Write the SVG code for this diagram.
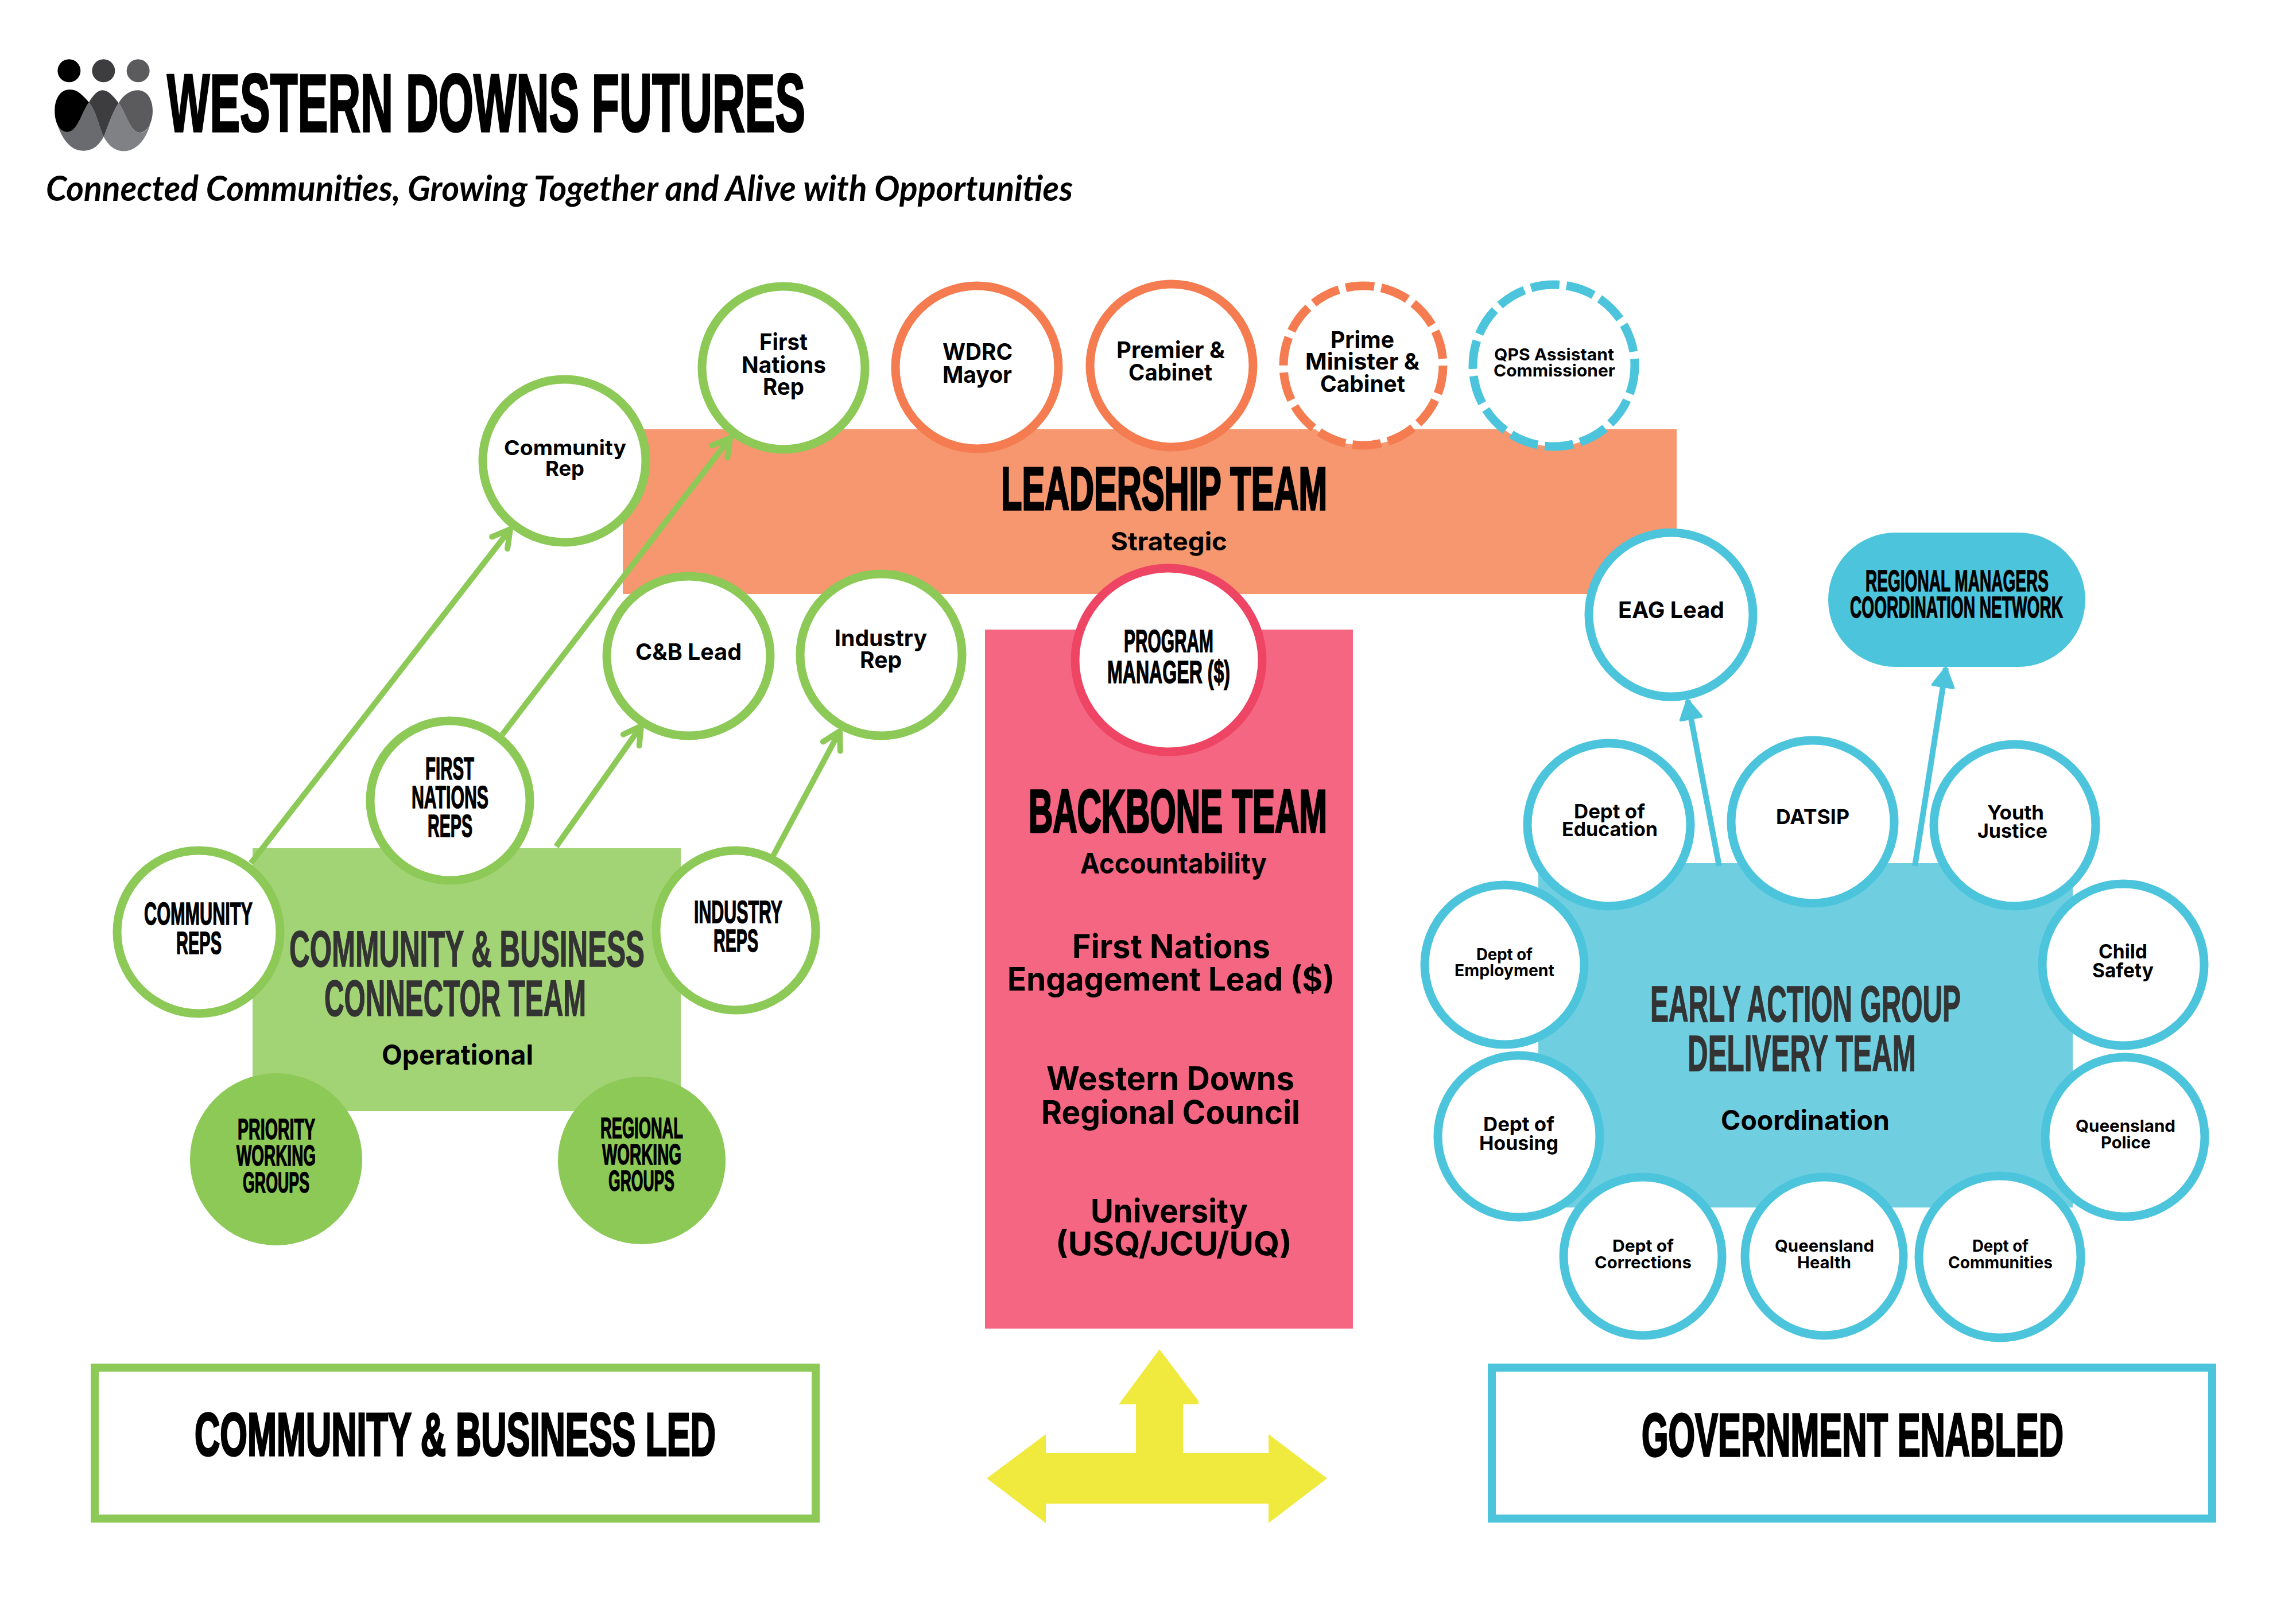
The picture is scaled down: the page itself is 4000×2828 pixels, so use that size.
<svg xmlns="http://www.w3.org/2000/svg" width="4000" height="2828" viewBox="0 0 4000 2828">
<style>
text{font-family:"Liberation Sans",Arial,sans-serif;fill:#000}
.b{font-weight:700;stroke:#000;stroke-width:1.5}
.t{font-weight:700;stroke:#000;stroke-width:3.5}
.d{fill:#333;font-weight:700;stroke:#333;stroke-width:1.5}
.w{font-family:Inter,"Liberation Sans",sans-serif;font-weight:700}
.n{fill:#fff;stroke-width:15}
.g{stroke:#8cc956}.o{stroke:#f47c50}.c{stroke:#4cc5dc}.p{stroke:#ef4565}
.dash{stroke-dasharray:50 12.4}
.fg{fill:#8cc956}
.box{fill:#fff;stroke-width:14}
.cg{fill:none;stroke:#8cc956;stroke-width:10}
.cb{fill:none;stroke:#4cc5dc;stroke-width:10}
</style>
<defs>
<marker id="ag" markerUnits="userSpaceOnUse" viewBox="-45 -30 55 60" markerWidth="55" markerHeight="60" refX="0" refY="0" orient="auto"><path d="M-30,-17 L0,0 L-30,17" fill="none" stroke="#8cc956" stroke-width="10" stroke-linecap="round" stroke-linejoin="round"/></marker>
<marker id="ab" markerUnits="userSpaceOnUse" viewBox="-45 -30 55 60" markerWidth="55" markerHeight="60" refX="0" refY="0" orient="auto"><path d="M-32,-18 L0,0 L-32,18 Z" fill="#4cc5dc" stroke="#4cc5dc" stroke-width="5" stroke-linejoin="round"/></marker>
</defs>
<rect width="4000" height="2828" fill="#fff"/>

<g id="logo" transform="translate(60 80) scale(.3333)">
<circle cx="181" cy="130" r="60" fill="#000"/><circle cx="361" cy="130" r="60" fill="#3d3d3f"/><circle cx="542" cy="130" r="60" fill="#5b5b5d"/>
<path d="M285,295 C245,350 225,450 172,450 C150,450 130,435 118,405 C145,490 190,548 255,548 C310,548 340,515 362,475 C335,420 325,345 285,295Z" fill="#6a6b6e"/>
<path d="M440,298 C405,350 385,420 362,475 C385,520 420,550 468,550 C530,550 585,490 606,405 C590,440 575,453 550,453 C500,453 480,350 440,298Z" fill="#808184"/>
<path d="M285,295 C250,255 225,228 185,228 C135,228 106,275 106,340 C106,400 130,450 172,450 C225,450 245,350 285,295Z" fill="#000"/>
<path d="M285,295 C315,245 335,232 358,232 C385,232 410,260 440,298 C405,350 385,420 362,475 C335,420 325,345 285,295Z" fill="#3d3d3f"/>
<path d="M440,298 C470,250 505,232 540,232 C590,232 618,280 618,340 C618,400 590,453 550,453 C500,453 480,350 440,298Z" fill="#5b5b5d"/>
</g>
<g id="title">
<text class="t" x="291" y="229" font-size="142" textLength="1112" lengthAdjust="spacingAndGlyphs">WESTERN DOWNS FUTURES</text>
<text x="80" y="350" font-size="62" font-style="italic" font-weight="700" textLength="1789" lengthAdjust="spacingAndGlyphs" style="font-family:Lato,'Liberation Sans',sans-serif">Connected Communities, Growing Together and Alive with Opportunities</text>
</g>

<g id="leadership-team">
<rect x="1085" y="748" width="1836" height="287" fill="#f6976f"/>
<text class="t" x="1744" y="888" font-size="105" textLength="568" lengthAdjust="spacingAndGlyphs">LEADERSHIP TEAM</text>
<text class="w" x="1935" y="959" font-size="44" textLength="203" lengthAdjust="spacingAndGlyphs">Strategic</text>
</g>
<g id="backbone-team">
<rect x="1716" y="1097" width="641" height="1218" fill="#f46682"/>
<text class="t" x="1792" y="1450" font-size="105" textLength="520" lengthAdjust="spacingAndGlyphs">BACKBONE TEAM</text>
<text class="w" x="1882" y="1522" font-size="50" textLength="325" lengthAdjust="spacingAndGlyphs">Accountability</text>
<text class="w" x="1868" y="1669" font-size="56" textLength="345" lengthAdjust="spacingAndGlyphs">First Nations</text>
<text class="w" x="1755" y="1726" font-size="56" textLength="570" lengthAdjust="spacingAndGlyphs">Engagement Lead ($)</text>
<text class="w" x="1823" y="1899" font-size="56" textLength="432" lengthAdjust="spacingAndGlyphs">Western Downs</text>
<text class="w" x="1814" y="1958" font-size="56" textLength="451" lengthAdjust="spacingAndGlyphs">Regional Council</text>
<text class="w" x="1900" y="2130" font-size="56" textLength="274" lengthAdjust="spacingAndGlyphs">University</text>
<text class="w" x="1839" y="2187" font-size="56" textLength="412" lengthAdjust="spacingAndGlyphs">(USQ/JCU/UQ)</text>
</g>
<g id="connector-team">
<rect x="440" y="1478" width="746" height="458" fill="#a2d476"/>
<text class="d" x="504" y="1684" font-size="89" textLength="619" lengthAdjust="spacingAndGlyphs">COMMUNITY &amp; BUSINESS</text>
<text class="d" x="565" y="1770" font-size="89" textLength="456" lengthAdjust="spacingAndGlyphs">CONNECTOR TEAM</text>
<text class="w" x="665" y="1855" font-size="48" textLength="264" lengthAdjust="spacingAndGlyphs">Operational</text>
</g>
<g id="eag-team">
<rect x="2680" y="1504" width="931" height="600" fill="#6fcfe1"/>
<text class="d" x="2875" y="1780" font-size="89" textLength="541" lengthAdjust="spacingAndGlyphs">EARLY ACTION GROUP</text>
<text class="d" x="2940" y="1866" font-size="89" textLength="398" lengthAdjust="spacingAndGlyphs">DELIVERY TEAM</text>
<text class="w" x="2998" y="1969" font-size="48" textLength="294" lengthAdjust="spacingAndGlyphs">Coordination</text>
</g>

<g id="connectors">
<line class="cg" x1="437" y1="1504" x2="889" y2="922" marker-end="url(#ag)"/>
<line class="cg" x1="875" y1="1280" x2="1272" y2="763" marker-end="url(#ag)"/>
<line class="cg" x1="969" y1="1475" x2="1117" y2="1265" marker-end="url(#ag)"/>
<line class="cg" x1="1347" y1="1491" x2="1463" y2="1274" marker-end="url(#ag)"/>
<line class="cb" x1="2995" y1="1509" x2="2940" y2="1220" marker-end="url(#ab)"/>
<line class="cb" x1="3336" y1="1509" x2="3390" y2="1164" marker-end="url(#ab)"/>
</g>

<g id="community-rep"><circle class="n g" cx="983" cy="803" r="142"/>
<text class="w" x="878" y="793" font-size="36" textLength="213" lengthAdjust="spacingAndGlyphs">Community</text>
<text class="w" x="950" y="829" font-size="36" textLength="68" lengthAdjust="spacingAndGlyphs">Rep</text></g>
<g id="first-nations-rep"><circle class="n g" cx="1365" cy="641" r="142"/>
<text class="w" x="1323" y="610" font-size="40" textLength="84" lengthAdjust="spacingAndGlyphs">First</text>
<text class="w" x="1292" y="650" font-size="40" textLength="147" lengthAdjust="spacingAndGlyphs">Nations</text>
<text class="w" x="1329" y="688" font-size="40" textLength="72" lengthAdjust="spacingAndGlyphs">Rep</text></g>
<g id="wdrc-mayor"><circle class="n o" cx="1702" cy="640" r="142"/>
<text class="w" x="1642" y="627" font-size="40" textLength="122" lengthAdjust="spacingAndGlyphs">WDRC</text>
<text class="w" x="1642" y="667" font-size="40" textLength="121" lengthAdjust="spacingAndGlyphs">Mayor</text></g>
<g id="premier-cabinet"><circle class="n o" cx="2041" cy="637" r="142"/>
<text class="w" x="1945" y="624" font-size="40" textLength="189" lengthAdjust="spacingAndGlyphs">Premier &amp;</text>
<text class="w" x="1966" y="663" font-size="40" textLength="146" lengthAdjust="spacingAndGlyphs">Cabinet</text></g>
<g id="prime-minister-cabinet"><circle class="n o dash" cx="2375" cy="637" r="139"/>
<text class="w" x="2318" y="606" font-size="40" textLength="111" lengthAdjust="spacingAndGlyphs">Prime</text>
<text class="w" x="2274" y="644" font-size="40" textLength="199" lengthAdjust="spacingAndGlyphs">Minister &amp;</text>
<text class="w" x="2300" y="683" font-size="40" textLength="148" lengthAdjust="spacingAndGlyphs">Cabinet</text></g>
<g id="qps-assistant-commissioner"><circle class="n c dash" cx="2707" cy="637" r="141"/>
<text class="w" x="2603" y="628" font-size="29" textLength="209" lengthAdjust="spacingAndGlyphs">QPS Assistant</text>
<text class="w" x="2602" y="656" font-size="29" textLength="212" lengthAdjust="spacingAndGlyphs">Commissioner</text></g>
<g id="cb-lead"><ellipse class="n g" cx="1199.5" cy="1143" rx="142.5" ry="139"/>
<text class="w" x="1107" y="1150" font-size="40" textLength="185" lengthAdjust="spacingAndGlyphs">C&amp;B Lead</text></g>
<g id="industry-rep"><circle class="n g" cx="1535" cy="1141" r="141"/>
<text class="w" x="1454" y="1126" font-size="40" textLength="161" lengthAdjust="spacingAndGlyphs">Industry</text>
<text class="w" x="1498" y="1164" font-size="40" textLength="73" lengthAdjust="spacingAndGlyphs">Rep</text></g>
<g id="program-manager"><ellipse class="n p" cx="2036" cy="1150" rx="163" ry="160"/>
<text class="b" x="1958" y="1136" font-size="55" textLength="156" lengthAdjust="spacingAndGlyphs">PROGRAM</text>
<text class="b" x="1929" y="1190" font-size="55" textLength="214" lengthAdjust="spacingAndGlyphs">MANAGER ($)</text></g>
<g id="eag-lead"><circle class="n c" cx="2911" cy="1071" r="143"/>
<text class="w" x="2819" y="1077" font-size="40" textLength="185" lengthAdjust="spacingAndGlyphs">EAG Lead</text></g>
<g id="regional-managers"><rect x="3185" y="928" width="448" height="234" rx="117" fill="#4cc5dc"/>
<text class="b" x="3250" y="1030" font-size="52" textLength="319" lengthAdjust="spacingAndGlyphs">REGIONAL MANAGERS</text>
<text class="b" x="3223" y="1076" font-size="52" textLength="371" lengthAdjust="spacingAndGlyphs">COORDINATION NETWORK</text></g>

<g id="community-reps"><circle class="n g" cx="346" cy="1624" r="142"/>
<text class="b" x="251" y="1611" font-size="55" textLength="189" lengthAdjust="spacingAndGlyphs">COMMUNITY</text>
<text class="b" x="307" y="1662" font-size="55" textLength="79" lengthAdjust="spacingAndGlyphs">REPS</text></g>
<g id="first-nations-reps"><circle class="n g" cx="784" cy="1395" r="139"/>
<text class="b" x="741" y="1358" font-size="55" textLength="85" lengthAdjust="spacingAndGlyphs">FIRST</text>
<text class="b" x="717" y="1408" font-size="55" textLength="134" lengthAdjust="spacingAndGlyphs">NATIONS</text>
<text class="b" x="745" y="1458" font-size="55" textLength="78" lengthAdjust="spacingAndGlyphs">REPS</text></g>
<g id="industry-reps"><circle class="n g" cx="1282" cy="1621" r="139"/>
<text class="b" x="1209" y="1608" font-size="55" textLength="154" lengthAdjust="spacingAndGlyphs">INDUSTRY</text>
<text class="b" x="1243" y="1658" font-size="55" textLength="78" lengthAdjust="spacingAndGlyphs">REPS</text></g>
<g id="priority-working-groups"><circle class="fg" cx="481" cy="2020" r="150"/>
<text class="b" x="414" y="1985" font-size="50" textLength="135" lengthAdjust="spacingAndGlyphs">PRIORITY</text>
<text class="b" x="412" y="2031" font-size="50" textLength="138" lengthAdjust="spacingAndGlyphs">WORKING</text>
<text class="b" x="423" y="2078" font-size="50" textLength="116" lengthAdjust="spacingAndGlyphs">GROUPS</text></g>
<g id="regional-working-groups"><circle class="fg" cx="1118" cy="2022" r="146"/>
<text class="b" x="1046" y="1983" font-size="50" textLength="144" lengthAdjust="spacingAndGlyphs">REGIONAL</text>
<text class="b" x="1049" y="2029" font-size="50" textLength="138" lengthAdjust="spacingAndGlyphs">WORKING</text>
<text class="b" x="1060" y="2075" font-size="50" textLength="115" lengthAdjust="spacingAndGlyphs">GROUPS</text></g>

<g id="dept-education"><circle class="n c" cx="2803" cy="1437" r="142"/>
<text class="w" x="2742" y="1426" font-size="34" textLength="124" lengthAdjust="spacingAndGlyphs">Dept of</text>
<text class="w" x="2721" y="1457" font-size="34" textLength="167" lengthAdjust="spacingAndGlyphs">Education</text></g>
<g id="datsip"><circle class="n c" cx="3158" cy="1432" r="142"/>
<text class="w" x="3094" y="1436" font-size="36" textLength="128" lengthAdjust="spacingAndGlyphs">DATSIP</text></g>
<g id="youth-justice"><circle class="n c" cx="3510" cy="1438" r="141"/>
<text class="w" x="3462" y="1428" font-size="34" textLength="99" lengthAdjust="spacingAndGlyphs">Youth</text>
<text class="w" x="3445" y="1460" font-size="34" textLength="122" lengthAdjust="spacingAndGlyphs">Justice</text></g>
<g id="dept-employment"><circle class="n c" cx="2621" cy="1681" r="139"/>
<text class="w" x="2572" y="1673" font-size="28" textLength="98" lengthAdjust="spacingAndGlyphs">Dept of</text>
<text class="w" x="2534" y="1701" font-size="28" textLength="174" lengthAdjust="spacingAndGlyphs">Employment</text></g>
<g id="child-safety"><circle class="n c" cx="3699" cy="1681" r="141"/>
<text class="w" x="3656" y="1670" font-size="34" textLength="85" lengthAdjust="spacingAndGlyphs">Child</text>
<text class="w" x="3645" y="1703" font-size="34" textLength="107" lengthAdjust="spacingAndGlyphs">Safety</text></g>
<g id="dept-housing"><circle class="n c" cx="2646" cy="1980" r="141"/>
<text class="w" x="2584" y="1971" font-size="34" textLength="124" lengthAdjust="spacingAndGlyphs">Dept of</text>
<text class="w" x="2577" y="2004" font-size="34" textLength="138" lengthAdjust="spacingAndGlyphs">Housing</text></g>
<g id="queensland-police"><circle class="n c" cx="3702" cy="1981" r="139"/>
<text class="w" x="3616" y="1972" font-size="29" textLength="174" lengthAdjust="spacingAndGlyphs">Queensland</text>
<text class="w" x="3660" y="2001" font-size="29" textLength="87" lengthAdjust="spacingAndGlyphs">Police</text></g>
<g id="dept-corrections"><circle class="n c" cx="2862" cy="2189" r="138"/>
<text class="w" x="2809" y="2181" font-size="29" textLength="107" lengthAdjust="spacingAndGlyphs">Dept of</text>
<text class="w" x="2778" y="2210" font-size="29" textLength="169" lengthAdjust="spacingAndGlyphs">Corrections</text></g>
<g id="queensland-health"><circle class="n c" cx="3178" cy="2189" r="138"/>
<text class="w" x="3092" y="2181" font-size="29" textLength="173" lengthAdjust="spacingAndGlyphs">Queensland</text>
<text class="w" x="3131" y="2210" font-size="29" textLength="94" lengthAdjust="spacingAndGlyphs">Health</text></g>
<g id="dept-communities"><circle class="n c" cx="3484" cy="2190" r="141"/>
<text class="w" x="3436" y="2181" font-size="28" textLength="98" lengthAdjust="spacingAndGlyphs">Dept of</text>
<text class="w" x="3394" y="2210" font-size="28" textLength="182" lengthAdjust="spacingAndGlyphs">Communities</text></g>

<g id="community-business-led"><rect class="box g" x="165" y="2383" width="1256" height="263"/>
<text class="t" x="339" y="2536" font-size="106" textLength="908" lengthAdjust="spacingAndGlyphs">COMMUNITY &amp; BUSINESS LED</text></g>
<g id="government-enabled"><rect class="box c" x="2599" y="2383" width="1255" height="263"/>
<text class="t" x="2860" y="2537" font-size="106" textLength="735" lengthAdjust="spacingAndGlyphs">GOVERNMENT ENABLED</text></g>
<g id="yellow-arrow"><path d="M2020,2351 L2088,2441 L2088,2447 L2061,2447 L2061,2532 L2210,2532 L2210,2499 L2312,2576 L2210,2654 L2210,2620 L1822,2620 L1822,2654 L1719,2576 L1822,2499 L1822,2532 L1979,2532 L1979,2447 L1949,2447 Z" fill="#f1ea3e"/></g>
</svg>
